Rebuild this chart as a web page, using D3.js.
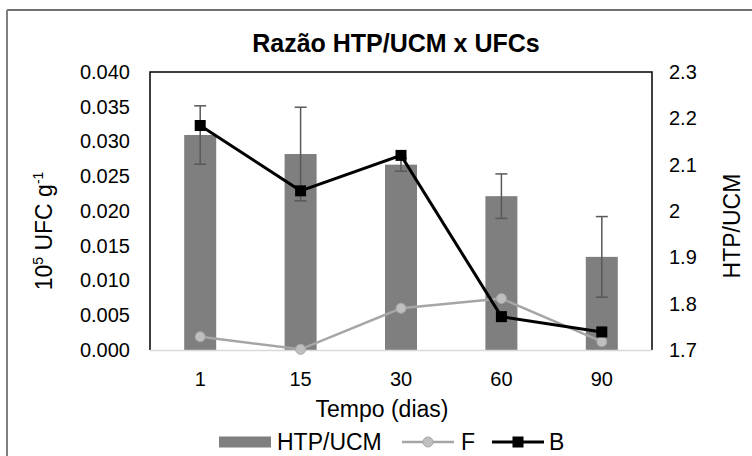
<!DOCTYPE html>
<html>
<head>
<meta charset="utf-8">
<script src="https://cdn.jsdelivr.net/npm/d3@7"></script>
<style>
  body { margin: 0; background: #fff; }
  text { font-family: "Liberation Sans", Arial, sans-serif; fill: #000; }
</style>
</head>
<body>
<div id="chart"></div>
<script>
// Data
var days = ["1", "15", "30", "60", "90"];
var htpUcm = [2.164, 2.123, 2.100, 2.032, 1.901];      // bars, right axis
var htpUcmErr = [0.063, 0.101, 0.014, 0.048, 0.087];
var seriesF = [0.0019, 0.0001, 0.0060, 0.0074, 0.0012]; // left axis
var seriesB = [0.0323, 0.0229, 0.0280, 0.0048, 0.0026]; // left axis
var leftTicks = [0, 0.005, 0.01, 0.015, 0.02, 0.025, 0.03, 0.035, 0.04];
var rightTicks = [1.7, 1.8, 1.9, 2.0, 2.1, 2.2, 2.3];

var w = 752, h = 456;
var plot = { left: 150, right: 652, top: 72, bottom: 350 };

var svg = d3.select("#chart").append("svg")
  .attr("width", w).attr("height", h);

// outer chart border (only top and left visible in frame)
svg.append("line").attr("x1", 7).attr("y1", 10).attr("x2", w).attr("y2", 10)
  .style("stroke", "#404040").style("stroke-width", 1.5);
svg.append("line").attr("x1", 7).attr("y1", 10).attr("x2", 7).attr("y2", h)
  .style("stroke", "#808080").style("stroke-width", 2);

var x = d3.scaleBand().domain(days).range([plot.left, plot.right]);
var yL = d3.scaleLinear().domain([0, 0.04]).range([plot.bottom, plot.top]);
var yR = d3.scaleLinear().domain([1.7, 2.3]).range([plot.bottom, plot.top]);

// title
svg.append("text").attr("x", 396).attr("y", 52)
  .attr("text-anchor", "middle")
  .style("font-size", "25px").style("font-weight", "bold")
  .text("Razão HTP/UCM x UFCs");

// bars
var barW = 32;
svg.selectAll("rect.bar").data(htpUcm).enter().append("rect")
  .attr("class", "bar")
  .attr("x", function(d, i) { return x(days[i]) + x.bandwidth() / 2 - barW / 2; })
  .attr("y", function(d) { return yR(d); })
  .attr("width", barW)
  .attr("height", function(d) { return plot.bottom - yR(d); })
  .style("fill", "#7f7f7f");

// error bars
var errG = svg.append("g").style("stroke", "#595959").style("stroke-width", 1.5);
htpUcm.forEach(function(d, i) {
  var cx = x(days[i]) + x.bandwidth() / 2;
  var y1 = yR(d + htpUcmErr[i]), y2 = yR(d - htpUcmErr[i]);
  errG.append("line").attr("x1", cx).attr("x2", cx).attr("y1", y1).attr("y2", y2);
  errG.append("line").attr("x1", cx - 6).attr("x2", cx + 6).attr("y1", y1).attr("y2", y1);
  errG.append("line").attr("x1", cx - 6).attr("x2", cx + 6).attr("y1", y2).attr("y2", y2);
});

// plot frame: black left/top/right, grey bottom axis
svg.append("path")
  .attr("d", "M" + plot.left + "," + plot.bottom + "V" + plot.top + "H" + plot.right + "V" + plot.bottom)
  .style("fill", "none").style("stroke", "#000").style("stroke-width", 1.5);
svg.append("line")
  .attr("x1", plot.left).attr("x2", plot.right)
  .attr("y1", plot.bottom + 0.5).attr("y2", plot.bottom + 0.5)
  .style("stroke", "#d9d9d9").style("stroke-width", 1.5);

var cxOf = function(i) { return x(days[i]) + x.bandwidth() / 2; };
var line = d3.line()
  .x(function(d, i) { return cxOf(i); })
  .y(function(d) { return yL(d); });

// F series
svg.append("path").datum(seriesF).attr("d", line)
  .style("fill", "none").style("stroke", "#a6a6a6").style("stroke-width", 2.5);
svg.selectAll("circle.f").data(seriesF).enter().append("circle")
  .attr("class", "f")
  .attr("cx", function(d, i) { return cxOf(i); })
  .attr("cy", function(d) { return yL(d); })
  .attr("r", 5)
  .style("fill", "#bfbfbf").style("stroke", "#a6a6a6").style("stroke-width", 1);

// B series
svg.append("path").datum(seriesB).attr("d", line)
  .style("fill", "none").style("stroke", "#000").style("stroke-width", 3);
svg.selectAll("rect.b").data(seriesB).enter().append("rect")
  .attr("class", "b")
  .attr("x", function(d, i) { return cxOf(i) - 5.5; })
  .attr("y", function(d) { return yL(d) - 5.5; })
  .attr("width", 11).attr("height", 11)
  .style("fill", "#000");

// axes
var tickSize = "20px", labelSize = "23px";
var axL = svg.append("g").attr("transform", "translate(" + plot.left + ",0)")
  .call(d3.axisLeft(yL).tickValues(leftTicks).tickFormat(d3.format(".3f")).tickSize(0).tickPadding(20));
var axR = svg.append("g").attr("transform", "translate(" + plot.right + ",0)")
  .call(d3.axisRight(yR).tickValues(rightTicks)
    .tickFormat(function(d) { return Math.abs(d - 2) < 1e-9 ? "2" : d3.format(".1f")(d); })
    .tickSize(0).tickPadding(17));
var axB = svg.append("g").attr("transform", "translate(0," + plot.bottom + ")")
  .call(d3.axisBottom(x).tickSize(0).tickPadding(22));
[axL, axR, axB].forEach(function(a) {
  a.select(".domain").remove();
  a.selectAll("text").style("font-size", tickSize).style("font-family", "'Liberation Sans', Arial, sans-serif");
});

// axis titles
svg.append("text").attr("x", 382).attr("y", 417)
  .attr("text-anchor", "middle").style("font-size", labelSize)
  .text("Tempo (dias)");

var yt = svg.append("text")
  .attr("transform", "translate(52,231) rotate(-90)")
  .attr("text-anchor", "middle").style("font-size", labelSize);
yt.append("tspan").text("10");
yt.append("tspan").attr("dy", -9).style("font-size", "14px").text("5");
yt.append("tspan").attr("dy", 9).text(" UFC g");
yt.append("tspan").attr("dy", -9).style("font-size", "14px").text("-1");

svg.append("text")
  .attr("transform", "translate(740,226) rotate(-90)")
  .attr("text-anchor", "middle").style("font-size", labelSize)
  .text("HTP/UCM");

// legend
var lg = svg.append("g");
var ly = 442;
lg.append("rect").attr("x", 219).attr("y", ly - 5.5).attr("width", 52).attr("height", 11)
  .style("fill", "#7f7f7f");
lg.append("text").attr("x", 277).attr("y", ly + 8).style("font-size", labelSize).text("HTP/UCM");
lg.append("line").attr("x1", 402).attr("x2", 454).attr("y1", ly).attr("y2", ly)
  .style("stroke", "#a6a6a6").style("stroke-width", 2.5);
lg.append("circle").attr("cx", 428).attr("cy", ly).attr("r", 5)
  .style("fill", "#bfbfbf").style("stroke", "#a6a6a6");
lg.append("text").attr("x", 461).attr("y", ly + 8).style("font-size", labelSize).text("F");
lg.append("line").attr("x1", 492).attr("x2", 544).attr("y1", ly).attr("y2", ly)
  .style("stroke", "#000").style("stroke-width", 3);
lg.append("rect").attr("x", 512.5).attr("y", ly - 5.5).attr("width", 11).attr("height", 11)
  .style("fill", "#000");
lg.append("text").attr("x", 549).attr("y", ly + 8).style("font-size", labelSize).text("B");
</script>
</body>
</html>
